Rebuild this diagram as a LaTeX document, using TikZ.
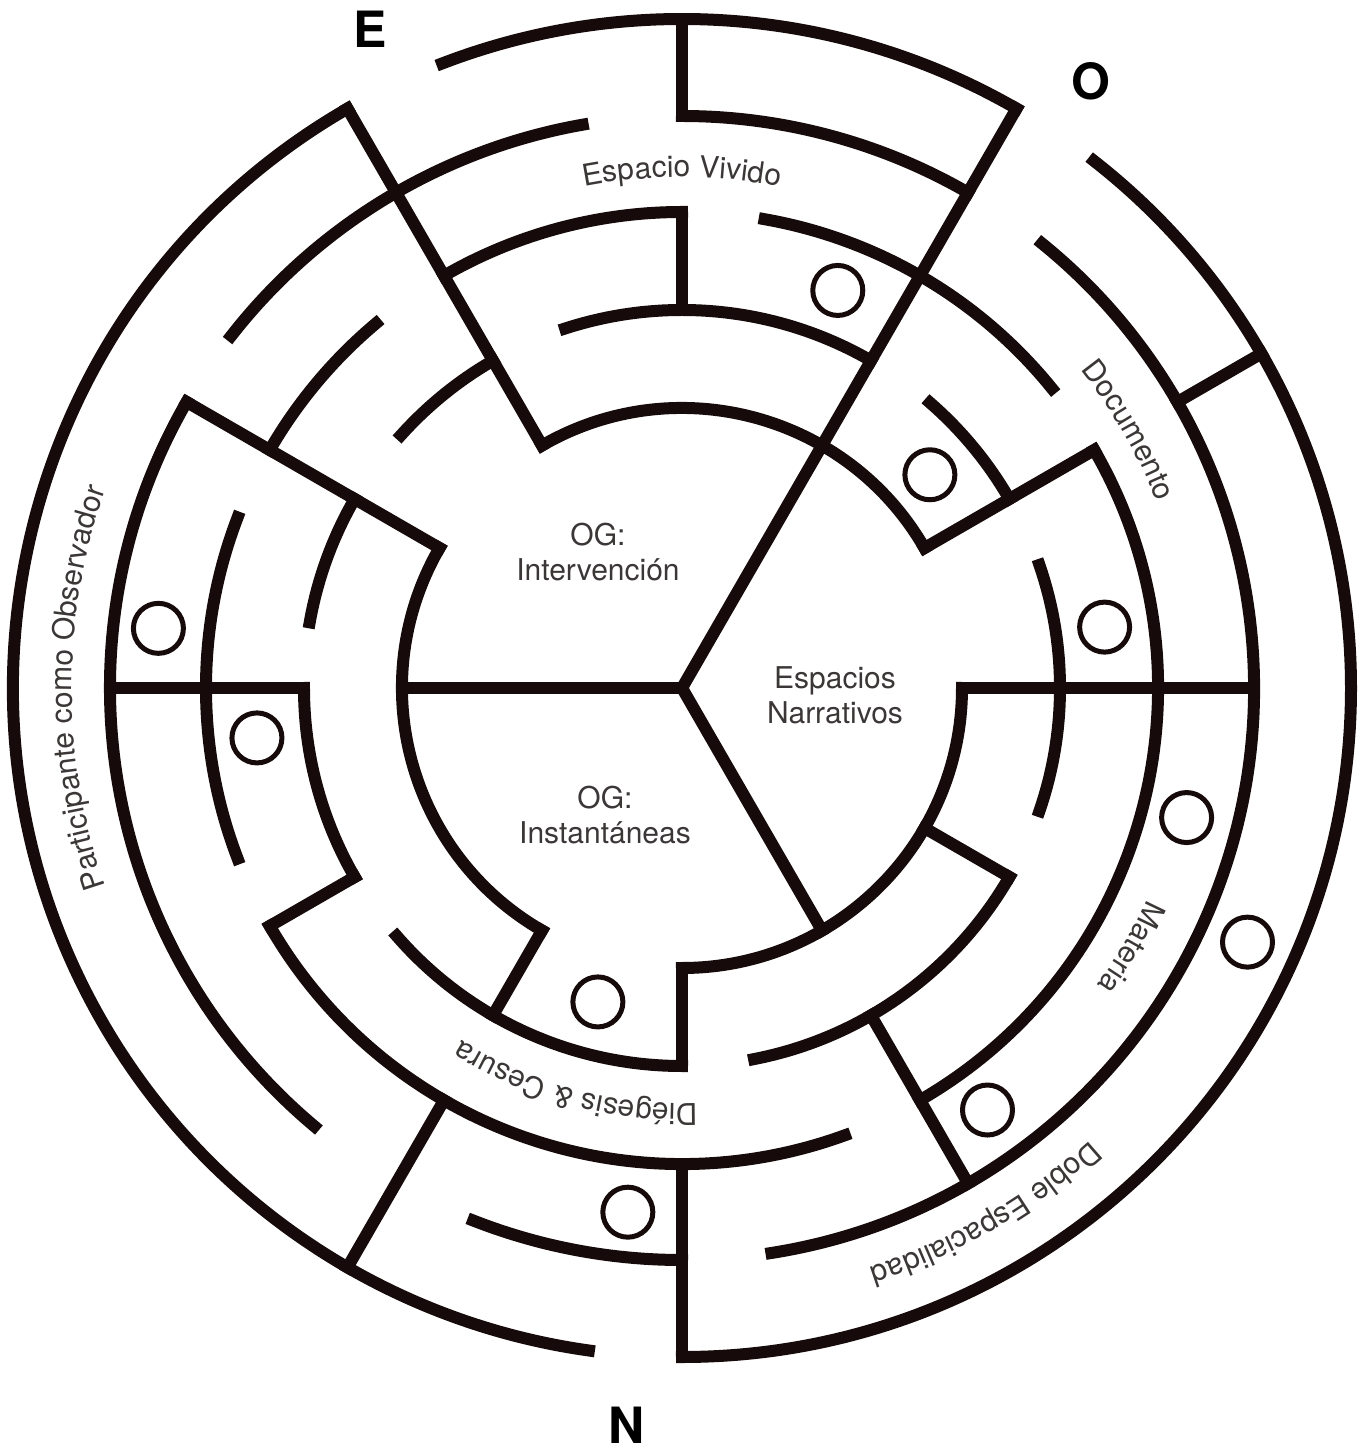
\documentclass[tikz,border=0pt]{standalone}
\usepackage{fontspec}
\setmainfont{TeX Gyre Heros}
\usetikzlibrary{decorations.text}
\definecolor{ink}{RGB}{22,10,10}
\definecolor{txt}{RGB}{60,55,55}
\newcommand{\ringarc}[3]{\draw[wall] (#1:#3pt) arc[start angle=#1, end angle=#2, radius=#3pt];}
\newcommand{\radial}[3]{\draw[wall] (#1:#2pt) -- (#1:#3pt);}
\newcommand{\ringlabel}[4]{\path[decorate, decoration={text along path, text align=center, text color=txt,
    text format delimiters={|}{|}, text={|\fontsize{30}{36}\selectfont|#4}}]
    (#1:#3pt) arc[start angle=#1, end angle=#2, radius=#3pt];}
\begin{document}
\begin{tikzpicture}[
  wall/.style={draw=ink, line width=12pt, line cap=rect, line join=miter},
  marker/.style={draw=ink, line width=5pt},
  lbl/.style={font=\fontsize{30}{35}\selectfont, text=txt, align=center},
  cardinal/.style={font=\fontsize{50}{60}\selectfont\bfseries, text=black, inner sep=0pt, anchor=base}
]
\useasboundingbox (-682pt,-762pt) rectangle (688pt,688pt);

% ---- ring 1 (r=280)
\ringarc{120}{30}{280}
\ringarc{150}{240}{280}
\ringarc{270}{360}{280}
% ---- ring 2 (r=378)
\ringarc{108}{60}{378}
\ringarc{138}{120}{378}
\ringarc{150}{170}{378}
\ringarc{180}{210}{378}
\ringarc{221}{270}{378}
\ringarc{281}{330}{378}
\ringarc{-19}{19}{378}
\ringarc{49}{30}{378}
% ---- ring 3 (r=476)
\ringarc{80}{39}{476}
\ringarc{120}{90}{476}
\ringarc{130}{150}{476}
\ringarc{159}{201}{476}
\ringarc{210}{290}{476}
\ringarc{-60}{30}{476}
% ---- ring 4 (r=572)
\ringarc{90}{60}{572}
\ringarc{100}{142}{572}
\ringarc{150}{230}{572}
\ringarc{248.6}{270}{572}
\ringarc{-81}{51}{572}
% ---- ring 5 (r=669)
\ringarc{111}{60}{669}
\ringarc{120}{262}{669}
\ringarc{-90}{52}{669}

% ---- radial walls
\radial{0}{280}{572}
\radial{30}{280}{476}
\radial{30}{572}{669}
\radial{60}{0}{669}
\radial{90}{378}{476}
\radial{90}{572}{669}
\radial{120}{280}{669}
\radial{150}{280}{572}
\radial{180}{0}{280}
\radial{180}{378}{572}
\radial{210}{378}{476}
\radial{240}{280}{378}
\radial{240}{476}{669}
\radial{270}{280}{378}
\radial{270}{476}{669}
\radial{300}{0}{280}
\radial{300}{378}{572}
\radial{330}{280}{378}

% ---- small circles
\foreach \a/\r in {68.6/427, 40.7/327, 8.2/427, -14.4/521, -24.2/620,
                   -54.1/521, 264.1/527, 255/325, 186.7/428, 173.5/527}
  \draw[marker] (\a:\r pt) circle[radius=25pt];

% ---- inner labels
\node[lbl] (interv) at (-84pt,136pt) {OG:\\Intervención};
\node[lbl] (narr) at (153pt,-7pt) {Espacios\\Narrativos};
\node[lbl] (inst) at (-77pt,-127pt) {OG:\\Instantáneas};

% ---- ring labels (text along arcs)
\ringlabel{115}{65}{511}{Espacio Vivido}
\ringlabel{55}{5}{510}{Documento}
\ringlabel{-5}{-55}{511}{Materia}
\ringlabel{-20}{-100}{609}{Doble Espacialidad}
\ringlabel{295}{215}{416}{Diégesis {\&} Cesura}
\ringlabel{225}{135}{610}{Participante como Observador}

% ---- cardinal letters
\node[cardinal] (east) at (-312pt,640pt) {E};
\node[cardinal] (west) at (409pt,588pt) {O};
\node[cardinal] (north) at (-55pt,-755pt) {N};
\end{tikzpicture}
\end{document}
